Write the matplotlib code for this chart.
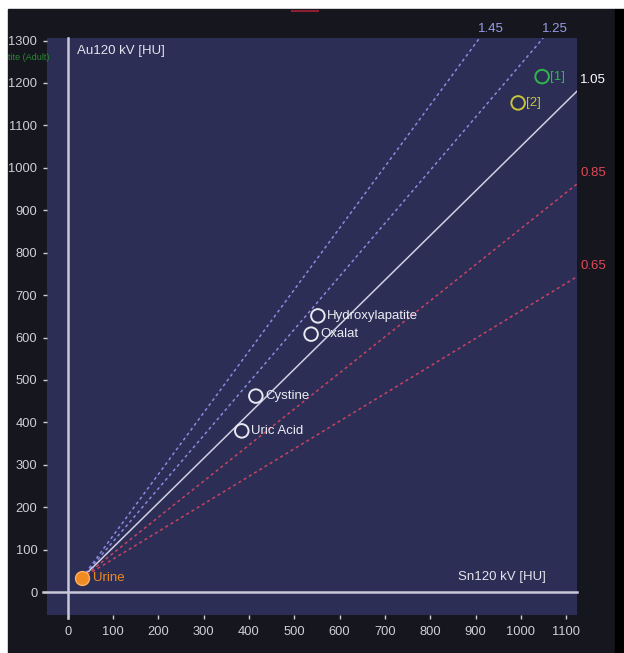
import matplotlib.pyplot as plt
from matplotlib.patches import Rectangle

# stone reference points (Sn120 kV, Au120 kV) in HU
stones = ["Hydroxylapatite", "Oxalat", "Cystine", "Uric Acid"]
stone_x = [552, 537, 415, 384]
stone_y = [651, 608, 462, 380]

marks = ["[1]", "[2]"]
mark_x = [1047, 994]
mark_y = [1215, 1153]
mark_colors = ["#2fb84a", "#c8c43a"]

urine_x, urine_y = 31, 33

# ratio lines going out from the urine point
ratios = [1.45, 1.25, 1.05, 0.85, 0.65]
ratio_colors = ["#8a8ae0", "#8a8ae0", "#d0d0e4", "#c84460", "#c84460"]
ratio_styles = [(0, (2, 2)), (0, (2, 2)), "-", (0, (2, 2)), (0, (2, 2))]

xticks = list(range(0, 1101, 100))
yticks = list(range(0, 1301, 100))

fg = "#cfcfd8"
font = ["Liberation Sans Narrow", "Liberation Sans", "DejaVu Sans"]
plt.rcParams["font.family"] = font

fig = plt.figure(figsize=(6.24, 6.53), dpi=100)
fig.patch.set_facecolor("white")
# dark panel behind everything, black strip on the right
fig.patches.append(Rectangle((8 / 624, 0), (615 - 8) / 624, (653 - 9) / 653,
                             transform=fig.transFigure, color="#16161f", zorder=-10))
fig.patches.append(Rectangle((615 / 624, 0), 9 / 624, (653 - 9) / 653,
                             transform=fig.transFigure, color="#000000", zorder=-10))
fig.lines.append(plt.Line2D([292 / 624, 318 / 624], [1 - 11 / 653, 1 - 11 / 653],
                            transform=fig.transFigure, color="#8a2030", lw=1.5,
                            zorder=-5))

ax = fig.add_axes([47 / 624, 38 / 653, 530 / 624, 577 / 653])
ax.set_facecolor("#2c2e56")
xmin, xmax, ymin, ymax = -46, 1124, -54, 1306
ax.set_xlim(xmin, xmax)
ax.set_ylim(ymin, ymax)
for s in ax.spines.values():
    s.set_visible(False)

ax.set_xticks(xticks)
ax.set_yticks(yticks)
ax.tick_params(colors=fg, labelsize=9.3, length=3, width=1, pad=5)
ax.tick_params(axis="y", pad=4)
for lab in ax.get_xticklabels() + ax.get_yticklabels():
    lab.set_color(fg)

# zero axes
ax.plot([-55, xmax], [0, 0], color="#c8c8d8", lw=1.8, zorder=2, clip_on=False)
ax.plot([0, 0], [-60, ymax], color="#c8c8d8", lw=1.8, zorder=2, clip_on=False)

for r, c, ls in zip(ratios, ratio_colors, ratio_styles):
    # clip each line at the plot border
    x_end = xmax
    y_end = urine_y + r * (x_end - urine_x)
    if y_end > ymax:
        y_end = ymax
        x_end = urine_x + (ymax - urine_y) / r
    ax.plot([urine_x, x_end], [urine_y, y_end], color=c, ls=ls, lw=1.1, zorder=3)
    lab_col = "#9a9ae6" if r > 1.1 else ("white" if r == 1.05 else "#e04858")
    if y_end >= ymax:
        ax.text(x_end + 25, ymax + 8, f"{r:.2f}", color=lab_col, fontsize=9.5,
                ha="center", va="bottom", clip_on=False)
    else:
        ax.text(xmax + 7, y_end + 12, f"{r:.2f}", color=lab_col, fontsize=9.5,
                ha="left", va="bottom", clip_on=False)

ax.scatter(stone_x, stone_y, s=95, facecolors="none", edgecolors="#e8e8f0",
           linewidths=1.4, zorder=4)
for name, x, y in zip(stones, stone_x, stone_y):
    ax.text(x + 20, y, name, color="#ececf2", fontsize=9.5, va="center", zorder=5)

for name, x, y, c in zip(marks, mark_x, mark_y, mark_colors):
    ax.scatter([x], [y], s=95, facecolors="none", edgecolors=c, linewidths=1.4, zorder=4)
    ax.text(x + 18, y, name, color=c, fontsize=9.5, va="center", zorder=5)

ax.scatter([urine_x], [urine_y], s=100, color="#f08a22", edgecolors="#ffb060",
           linewidths=1, zorder=5)
ax.text(urine_x + 25, urine_y, "Urine", color="#f08a22", fontsize=9.5, va="center", zorder=5)

ax.text(20, 1290, "Au120 kV [HU]", color="#e4e4ec", fontsize=9.5, ha="left", va="top")
ax.text(1055, 35, "Sn120 kV [HU]", color="#e4e4ec", fontsize=9.5, ha="right", va="center")
fig.text(8 / 624, 1 - 58 / 653, "tite (Adult)", color="#2a8a30", fontsize=6.5,
         ha="left", va="center")

fig.savefig("out.png", dpi=100, facecolor=fig.get_facecolor())
